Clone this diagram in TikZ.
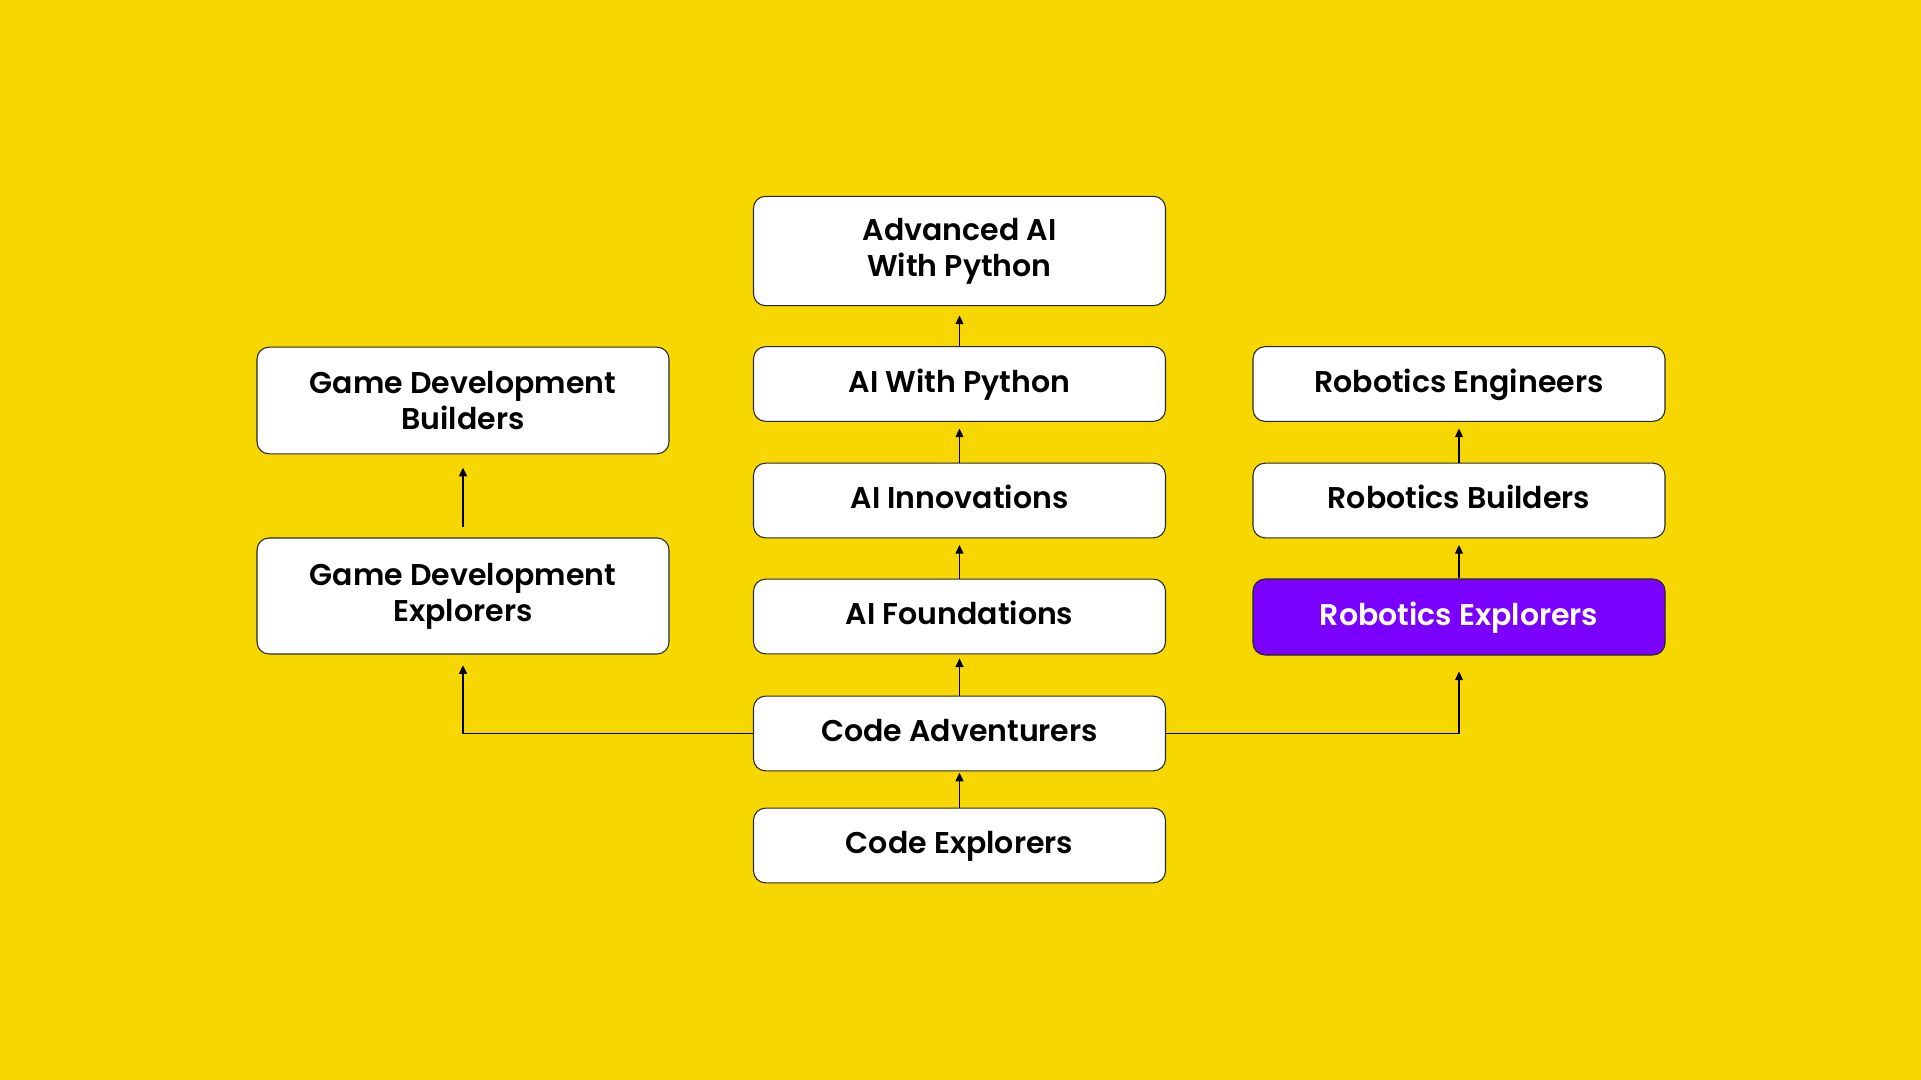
\documentclass[tikz,border=0pt]{standalone}
\usepackage{fontspec}
\setmainfont{Poppins SemiBold}
\usetikzlibrary{arrows.meta}
\definecolor{bgyellow}{RGB}{246,216,0}
\definecolor{rpurple}{RGB}{122,0,255}
\definecolor{boxline}{RGB}{40,40,40}
\begin{document}
\begin{tikzpicture}[x=0.75pt,y=-0.75pt,
  box/.style={draw=boxline,line width=0.8pt,fill=white,rounded corners=9pt,
    minimum width=309pt,inner sep=0pt,align=center,font=\fontsize{22.5}{27}\selectfont,text=black},
  single/.style={box,minimum height=56pt,text height=15.75pt,text depth=3.4pt},
  hi/.style={single,fill=rpurple,text=white},
  conn/.style={line width=0.9pt,-{Triangle[width=6pt,length=6.5pt]}}]
\fill[bgyellow] (0,0) rectangle (1921,1080);
\useasboundingbox (0,0) rectangle (1921,1080);
% centre column
\node[box,minimum height=82pt] (adv) at (959.5,251) {Advanced AI\\With Python};
\node[single] (aipy) at (959.5,384) {AI With Python};
\node[single] (aiinn) at (959.5,500.5) {AI Innovations};
\node[single] (aifound) at (959.5,616.5) {AI Foundations};
\node[single] (codeadv) at (959.5,733.5) {Code Adventurers};
\node[single] (codeexp) at (959.5,845.5) {Code Explorers};
% left column
\node[box,minimum height=80pt] (gdb) at (463,400.5) {Game Development\\Builders};
\node[box,minimum height=87pt] (gde) at (463,596) {Game Development\\Explorers};
% right column
\node[single] (robeng) at (1459,384) {Robotics Engineers};
\node[single] (robbld) at (1459,500.5) {Robotics Builders};
\node[hi,minimum height=57pt] (robexp) at (1459,617) {Robotics Explorers};
% connectors
\draw[conn,shorten >=7pt] (aipy.north) -- (adv.south);
\draw[conn,shorten >=5pt] (aiinn.north) -- (aipy.south);
\draw[conn,shorten >=5pt] (aifound.north) -- (aiinn.south);
\draw[conn,shorten >=3pt] (codeadv.north) -- (aifound.south);
\draw[conn,shorten >=1pt] (codeexp.north) -- (codeadv.south);
\draw[conn,shorten <=7.5pt,shorten >=10pt] (gde.north) -- (gdb.south);
\draw[conn,shorten >=5pt] (robbld.north) -- (robeng.south);
\draw[conn,shorten >=5pt] (robexp.north) -- (robbld.south);
\draw[conn,shorten >=8pt] (codeadv.west) -| (gde.south);
\draw[conn,shorten >=12pt] (codeadv.east) -| (robexp.south);
\end{tikzpicture}
\end{document}
